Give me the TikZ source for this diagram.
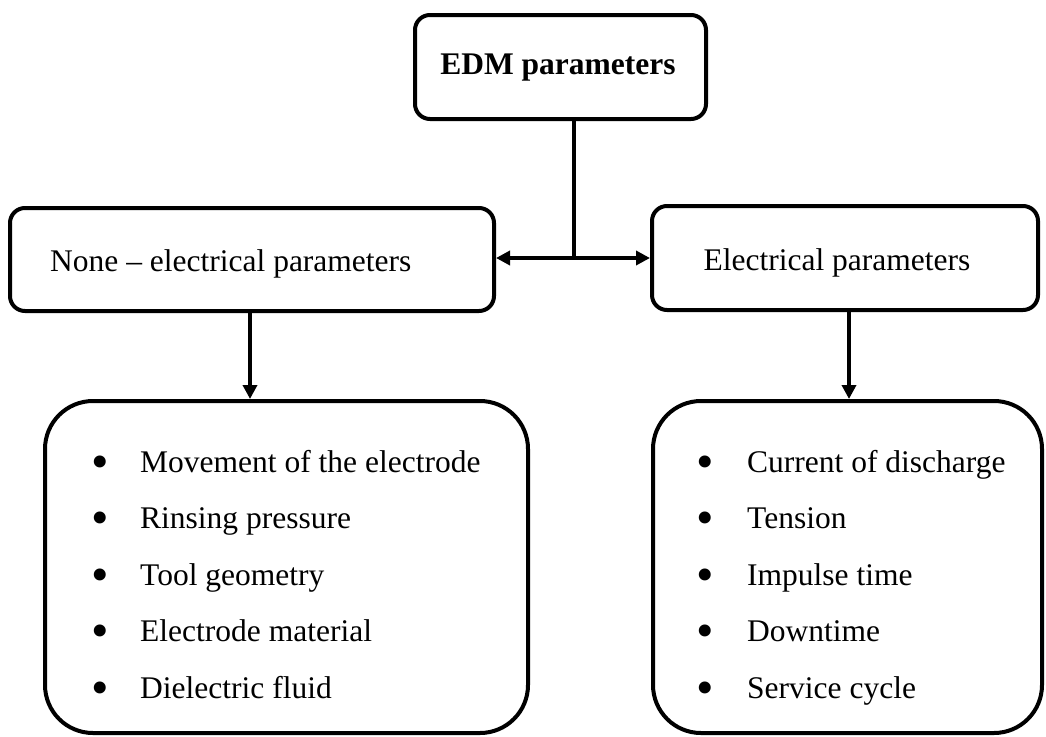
\documentclass[tikz,border=0pt]{standalone}
\usepackage{fontspec}
\setmainfont{Liberation Serif}
\usetikzlibrary{arrows.meta}
\begin{document}
\begin{tikzpicture}[x=1pt,y=-1pt,
  box/.style={draw=black, line width=4pt, rounded corners=15pt, inner sep=0pt},
  bigbox/.style={draw=black, line width=4pt, rounded corners=48pt, inner sep=0pt},
  lbl/.style={font=\fontsize{31.5}{38}\selectfont, inner sep=0pt},
  bul/.style={font=\fontsize{50}{50}\selectfont, inner sep=0pt, anchor=base},
  conn/.style={line width=3.5pt},
  arr/.style={line width=3.5pt, -{Triangle[length=14pt,width=14pt]}}]
\useasboundingbox (0,0) rectangle (1046,736);
% boxes
\node[box, minimum width=291pt, minimum height=104pt] (edm) at (560.5,67) {};
\node[box, minimum width=484pt, minimum height=103pt] (nl) at (252,259.5) {};
\node[box, minimum width=386pt, minimum height=104pt] (el) at (845,258) {};
\node[bigbox, minimum width=483pt, minimum height=332pt] (bl) at (286.5,567) {};
\node[bigbox, minimum width=389pt, minimum height=332pt] (br) at (847.5,567) {};
% labels
\node[lbl, font=\fontsize{31.5}{38}\selectfont\bfseries, anchor=base] (edmt) at (558,74) {EDM parameters};
\node[lbl, anchor=base west] (nlt) at (50,271) {None – electrical parameters};
\node[lbl, anchor=base] (elt) at (837,270) {Electrical parameters};
% lists
\foreach \t [count=\i] in {Movement of the electrode, Rinsing pressure, Tool geometry, Electrode material, Dielectric fluid}{
  \node[bul] (lb\i) at (100,{478+56.5*(\i-1)}) {\textbullet};
  \node[lbl, anchor=base west] (lt\i) at (140,{472+56.5*(\i-1)}) {\t};
}
\foreach \t [count=\i] in {Current of discharge, Tension, Impulse time, Downtime, Service cycle}{
  \node[bul] (rb\i) at (705,{478+56.5*(\i-1)}) {\textbullet};
  \node[lbl, anchor=base west] (rt\i) at (747,{472+56.5*(\i-1)}) {\t};
}
% connectors
\coordinate (j) at (574,258);
\coordinate (lx) at (250,0);
\coordinate (rx) at (849,0);
\draw[conn] (j |- edm.south) -- (j);
\draw[arr] (j) -- (j -| nl.east);
\draw[arr] (j) -- (j -| el.west);
\draw[arr] (lx |- nl.south) -- (lx |- bl.north);
\draw[arr] (rx |- el.south) -- (rx |- br.north);
\end{tikzpicture}
\end{document}
